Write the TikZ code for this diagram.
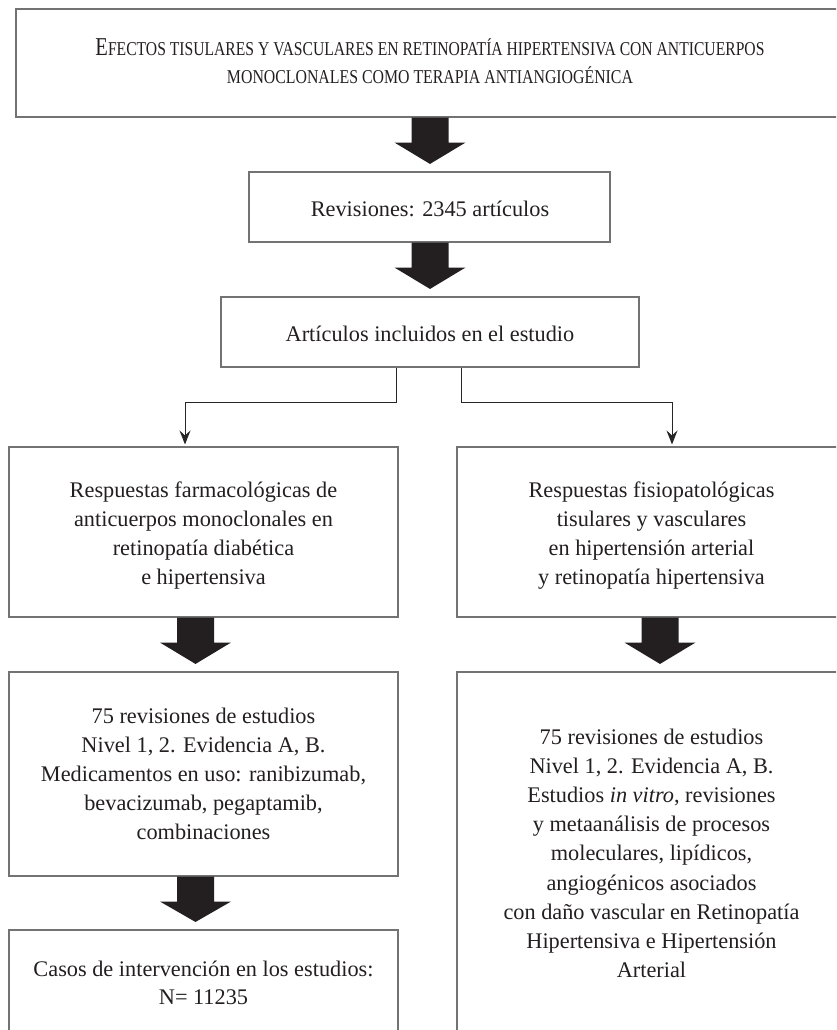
\documentclass[tikz,border=0pt]{standalone}
\usepackage{fontspec}
\setmainfont{Liberation Serif}
\usepackage{graphicx}
\usetikzlibrary{calc,arrows.meta}
\definecolor{ink}{HTML}{231F20}
\newcommand\tlines[1]{\begin{tabular}[t]{@{}c@{}}#1\end{tabular}}
\newcommand\fatarrow[3]{%
  \fill[ink] ($(#1.south -| #3)+(-18.5,0)$) -- ($(#1.south -| #3)+(18.5,0)$)
    -- ($(#1.south -| #3)+(18.5,25)$) -- ($(#1.south -| #3)+(35.5,25)$)
    -- ($(#2.north -| #3)+(0,-7.5)$)
    -- ($(#1.south -| #3)+(-35.5,25)$) -- ($(#1.south -| #3)+(-18.5,25)$) -- cycle;}
\begin{document}
\begin{tikzpicture}[x=1pt,y=-1pt,
  box/.style={draw=black!55, line width=1.1pt, inner sep=0pt, rectangle},
  txt/.style={inner sep=0pt, anchor=base, text=ink, font=\fontsize{22.3}{29.2}\selectfont},
  conn/.style={draw=black!85, line width=1pt, -{Stealth[length=14pt,width=11pt,inset=5pt]}}]
\useasboundingbox (0,0) rectangle (836,1030);
\fill[white] (0,0) rectangle (836,1030);
\clip (0,0) rectangle (836,1030);

% boxes
\node[box, minimum width=828pt, minimum height=108pt] (top) at (430,63) {};
\node[box, minimum width=361pt, minimum height=70pt] (rev) at (429.5,207) {};
\node[box, minimum width=418pt, minimum height=70pt] (art) at (430,332) {};
\node[box, minimum width=389pt, minimum height=170pt] (lresp) at (203.5,532) {};
\node[box, minimum width=389pt, minimum height=170pt] (rresp) at (651.5,532) {};
\node[box, minimum width=389pt, minimum height=204pt] (lrev) at (203.5,774) {};
\node[box, minimum width=389pt, minimum height=372pt] (rrev) at (651.5,858) {};
\node[box, minimum width=389pt, minimum height=114pt] (lcase) at (203.5,987) {};

% texts
\node[txt] (t1a) at (430,56) {\resizebox{669pt}{\height}{\fontsize{25.7}{28}\selectfont E\fontsize{19.6}{28}\selectfont FECTOS TISULARES Y VASCULARES EN RETINOPATÍA HIPERTENSIVA CON ANTICUERPOS}};
\node[txt] (t1b) at (430,84) {\resizebox{406pt}{\height}{\fontsize{19.6}{28}\selectfont MONOCLONALES COMO TERAPIA ANTIANGIOGÉNICA}};
\node[txt] (trev) at (430,216) {Revisiones: 2345 artículos};
\node[txt] (tart) at (430,341) {Artículos incluidos en el estudio};
\node[txt] (tlresp) at (203.5,497) {\tlines{Respuestas farmacológicas de\\anticuerpos monoclonales en\\retinopatía diabética\\e hipertensiva}};
\node[txt] (trresp) at (651.5,497) {\tlines{Respuestas fisiopatológicas\\tisulares y vasculares\\en hipertensión arterial\\y retinopatía hipertensiva}};
\node[txt] (tlrev) at (203.5,723) {\tlines{75 revisiones de estudios\\Nivel 1, 2. Evidencia A, B.\\Medicamentos en uso: ranibizumab,\\bevacizumab, pegaptamib,\\combinaciones}};
\node[txt] (trrev) at (651.5,744) {\tlines{75 revisiones de estudios\\Nivel 1, 2. Evidencia A, B.\\Estudios \textit{in vitro}, revisiones\\y metaanálisis de procesos\\moleculares, lipídicos,\\angiogénicos asociados\\con daño vascular en Retinopatía\\Hipertensiva e Hipertensión\\Arterial}};
\node[txt, font=\fontsize{22.3}{28.4}\selectfont] (tlcase) at (203.5,976) {\tlines{Casos de intervención en los estudios:\\N= 11235}};

% fat arrows
\coordinate (xc) at (430,0);
\coordinate (xl) at (195.5,0);
\coordinate (xr) at (660,0);
\fatarrow{top}{rev}{xc}
\fatarrow{rev}{art}{xc}
\fatarrow{lresp}{lrev}{xl}
\fatarrow{lrev}{lcase}{xl}
\fatarrow{rresp}{rrev}{xr}

% thin connectors
\draw[conn] ([xshift=-34pt]art.south) -- ++(0,35) -| ([xshift=-18.5pt,yshift=2pt]lresp.north);
\draw[conn] ([xshift=31pt]art.south) -- ++(0,35) -| ([xshift=20.5pt,yshift=2pt]rresp.north);
\end{tikzpicture}
\end{document}
